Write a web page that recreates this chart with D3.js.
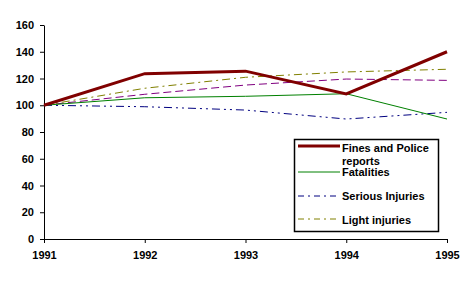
<!DOCTYPE html>
<html>
<head>
<meta charset="utf-8">
<script src="https://d3js.org/d3.v7.min.js"></script>
<style>
  body { margin: 0; background: #fff; }
  text { font-family: "Liberation Sans", Arial, sans-serif; font-weight: bold; font-size: 11px; }
</style>
</head>
<body>
<svg width="476" height="281"></svg>
<script>
// data
var years = [1991, 1992, 1993, 1994, 1995];
var yTicks = [0, 20, 40, 60, 80, 100, 120, 140, 160];
var fines = [100, 123.6, 125.5, 108.5, 140];
var fatalities = [100, 105.6, 106.7, 108.6, 89.7];
var serious = [100, 98.9, 96.4, 89.7, 94.7];
var light = [100, 112.7, 120.9, 124.9, 126.9];
var other = [100, 108.2, 115.1, 119.6, 118.6];

var series = [
  {name: "Other", values: other, color: "#800080", width: 1, dash: "8,4", legend: false},
  {name: "Light injuries", values: light, color: "#808000", width: 1, dash: "8,4,2,4", legend: true},
  {name: "Serious Injuries", values: serious, color: "#000080", width: 1, dash: "8,4,2,4,2,4", legend: true},
  {name: "Fatalities", values: fatalities, color: "#008000", width: 1, dash: null, legend: true},
  {name: "Fines and Police reports", values: fines, color: "#800000", width: 3, dash: null, legend: true}
];

var svg = d3.select("svg");

var x = d3.scaleLinear().domain([1991, 1995]).range([44, 447]);
var y = d3.scaleLinear().domain([0, 160]).range([239, 25]);

// y axis
svg.append("g")
  .attr("transform", "translate(44,0)")
  .call(d3.axisLeft(y).tickValues(yTicks).tickSize(4).tickSizeOuter(0).tickPadding(6))
  .call(function(g) {
    g.select(".domain").attr("stroke", "#000").attr("stroke-width", 1);
    g.selectAll("text").attr("font-size", 11).attr("font-family", null).attr("fill", "#000");
  });

// x axis
svg.append("g")
  .attr("transform", "translate(0,239)")
  .call(d3.axisBottom(x).tickValues(years).tickFormat(d3.format("d")).tickSize(4).tickSizeOuter(0).tickPadding(8))
  .call(function(g) {
    g.selectAll("text").attr("font-size", 11).attr("font-family", null).attr("fill", "#000");
  });

var line = d3.line()
  .x(function(d, i) { return x(years[i]); })
  .y(function(d) { return y(d); });

svg.append("g").selectAll("path")
  .data(series)
  .enter().append("path")
    .attr("d", function(d) { return line(d.values); })
    .attr("fill", "none")
    .attr("stroke", function(d) { return d.color; })
    .attr("stroke-width", function(d) { return d.width; })
    .attr("stroke-dasharray", function(d) { return d.dash; });

// legend
var legend = svg.append("g");
legend.append("rect")
  .attr("x", 294.5).attr("y", 139.5)
  .attr("width", 144).attr("height", 92)
  .attr("fill", "#fff").attr("stroke", "#000").attr("stroke-width", 1.5);

var legItems = [series[4], series[3], series[2], series[1]];
var legY = [146, 172, 196, 219];

legItems.forEach(function(s, i) {
  legend.append("line")
    .attr("x1", 298).attr("x2", 340)
    .attr("y1", legY[i]).attr("y2", legY[i])
    .attr("stroke", s.color)
    .attr("stroke-width", s.width)
    .attr("stroke-dasharray", s.dash ? "6,4,2,4" : null);
});

var t0 = legend.append("text").attr("x", 342).attr("y", 152);
t0.append("tspan").attr("x", 342).text("Fines and Police");
t0.append("tspan").attr("x", 342).attr("dy", 13).text("reports");
legend.append("text").attr("x", 342).attr("y", 176).text("Fatalities");
legend.append("text").attr("x", 342).attr("y", 200).text("Serious Injuries");
legend.append("text").attr("x", 342).attr("y", 224).text("Light injuries");
</script>
</body>
</html>
